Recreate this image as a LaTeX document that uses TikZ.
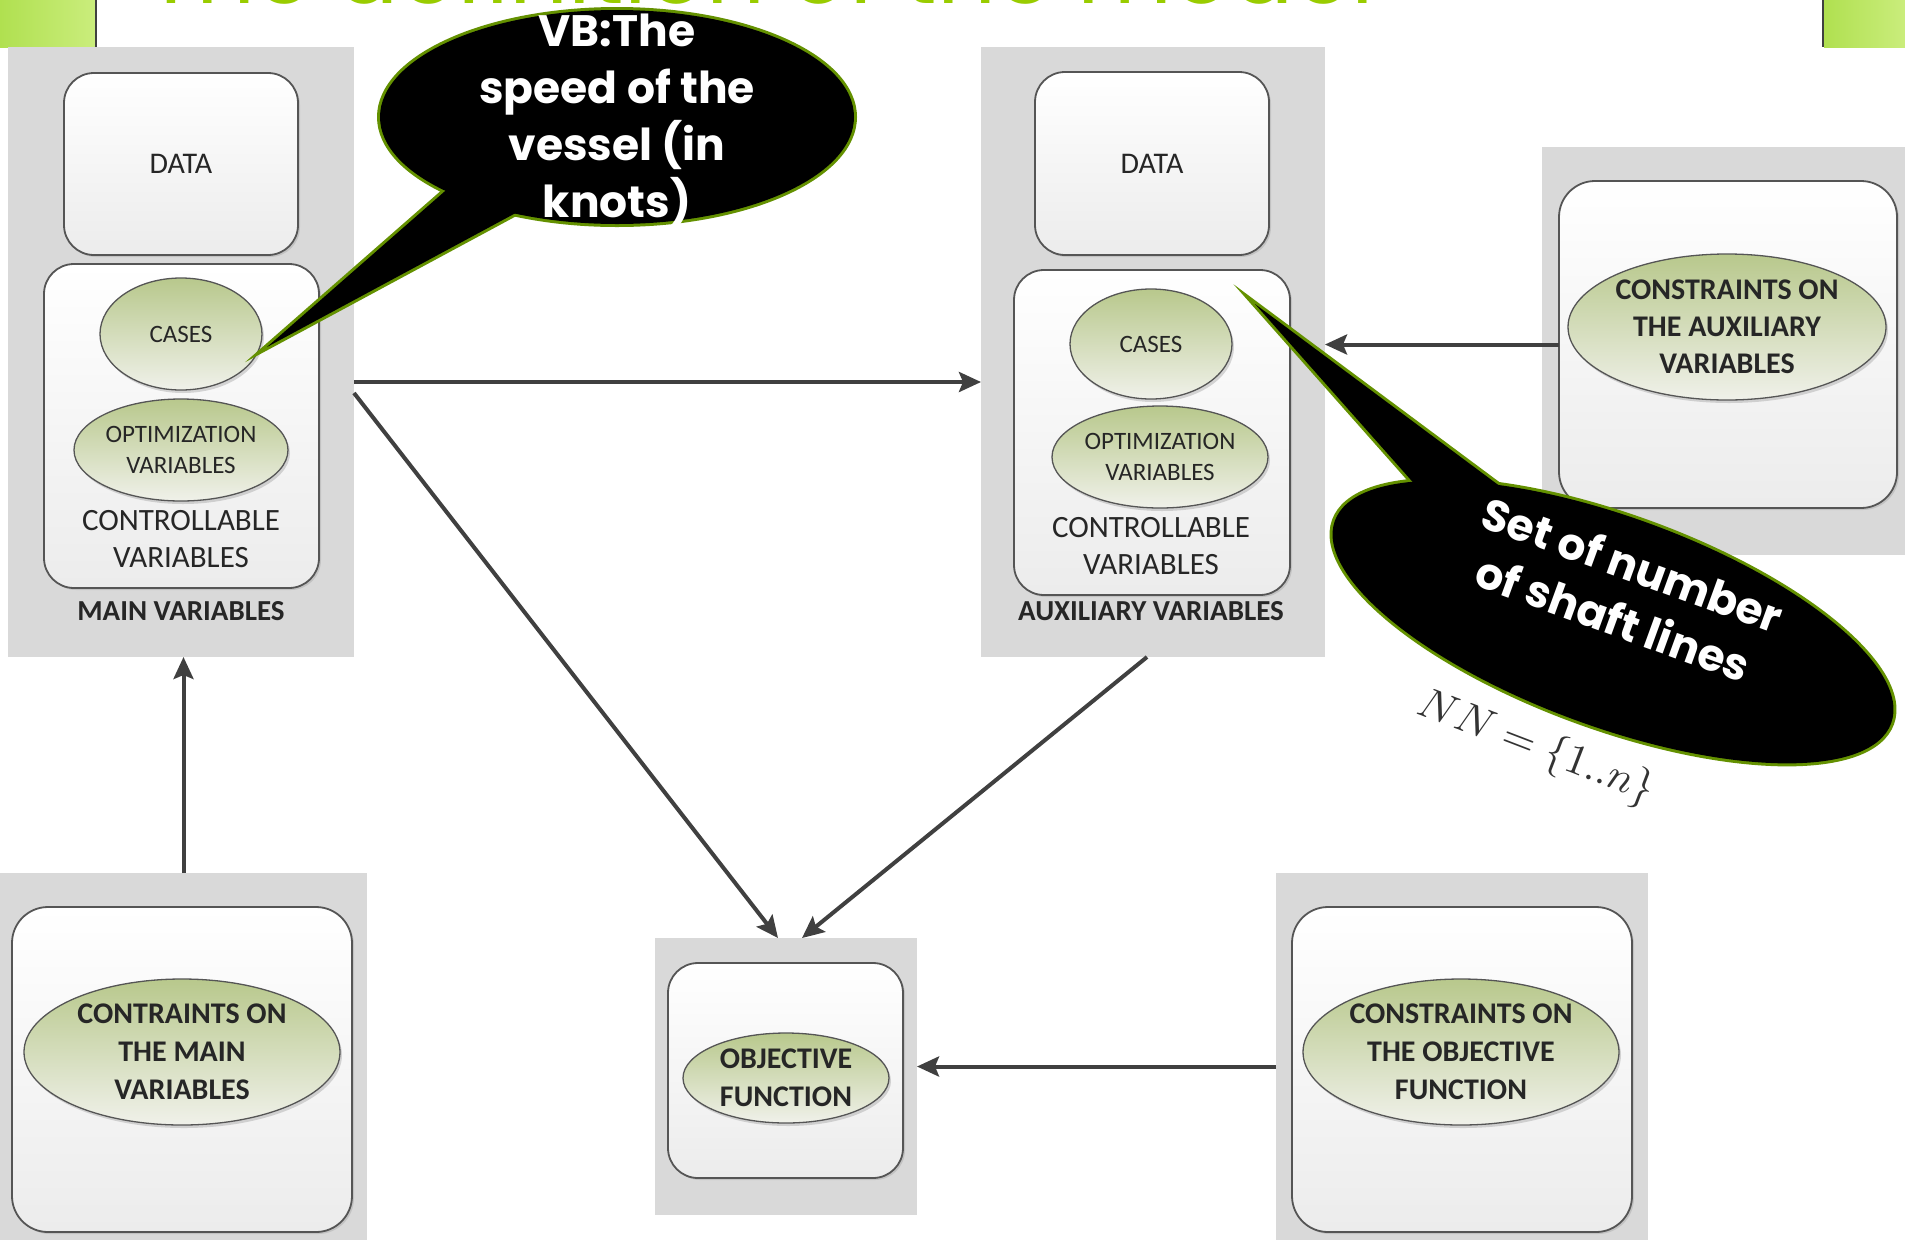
\documentclass[tikz,border=0pt]{standalone}
\usepackage{fontspec}
\usepackage{graphicx}
\setmainfont{Carlito}
\newfontfamily\callfont{Poppins}
\usetikzlibrary{arrows.meta,shapes.geometric,shadows}

\definecolor{panelgray}{RGB}{217,217,217}
\definecolor{cardedge}{RGB}{85,85,85}
\definecolor{ovaltop}{RGB}{184,200,140}
\definecolor{ovalbottom}{RGB}{240,241,234}
\definecolor{flowgray}{RGB}{64,64,64}
\definecolor{bubbleedge}{RGB}{100,145,0}
\definecolor{titlegreen}{RGB}{153,204,0}
\definecolor{barleft}{RGB}{176,224,80}
\definecolor{barright}{RGB}{202,237,124}
\definecolor{inktext}{RGB}{38,38,38}

\newcommand\setfs[2]{\fontsize{#1}{#2}\selectfont}

\tikzset{
  panel/.style={fill=panelgray, draw=none, inner sep=0pt, outer sep=0pt},
  card/.style={draw=cardedge, line width=1.8pt, rounded corners=30pt,
    top color=white, bottom color=gray!15, inner sep=0pt, outer sep=0pt,
    drop shadow={opacity=.25, shadow xshift=2pt, shadow yshift=-2pt}},
  oval/.style={ellipse, draw=cardedge, line width=1.3pt,
    top color=ovaltop, bottom color=ovalbottom, inner sep=0pt, outer sep=0pt,
    align=center, text=inktext,
    drop shadow={opacity=.3, shadow xshift=2pt, shadow yshift=-3pt}},
  lbl/.style={text=inktext, align=center, inner sep=0pt},
  flow/.style={draw=flowgray, line width=4pt,
    -{Stealth[length=22pt,width=20pt,inset=4pt]}},
  bubbletext/.style={text=white, align=center, inner sep=0pt,
    font=\callfont\bfseries\setfs{44}{57}},
}

\begin{document}
\begin{tikzpicture}[x=1pt,y=-1pt]
\useasboundingbox (0,0) rectangle (1905,1240);
\fill[white] (0,0) rectangle (1905,1240);

% slide heading and corner bars
\node[anchor=base west, inner sep=0pt, text=titlegreen] (title) at (146,3)
  {\resizebox{1227pt}{!}{\callfont The definition of the model}};
\shade[left color=barleft, right color=barright] (0,0) rectangle (95,47);
\shade[left color=barleft, right color=barright] (1824,0) rectangle (1905,47);
\draw[black!75, line width=1.5pt] (96,0) -- (96,47);
\draw[black!75, line width=1.5pt] (1823,0) -- (1823,47);

% grey panels
\node[panel, minimum width=346pt, minimum height=610pt] (pMain) at (181,352) {};
\node[panel, minimum width=344pt, minimum height=610pt] (pAux)  at (1153,352) {};
\node[panel, minimum width=363pt, minimum height=408pt] (pAuxC) at (1723.5,351) {};
\node[panel, minimum width=367pt, minimum height=367pt] (pBL)   at (183.5,1056.5) {};
\node[panel, minimum width=262pt, minimum height=277pt] (pObj)  at (786,1076.5) {};
\node[panel, minimum width=372pt, minimum height=367pt] (pBR)   at (1462,1056.5) {};

% rounded cards
\node[card, minimum width=234pt, minimum height=182pt] (cDataA) at (181,164) {};
\node[card, minimum width=275pt, minimum height=324pt] (cCtrlA) at (181.5,426) {};
\node[card, minimum width=234pt, minimum height=183pt] (cDataB) at (1152,163.5) {};
\node[card, minimum width=276pt, minimum height=325pt] (cCtrlB) at (1152,432.5) {};
\node[card, minimum width=338pt, minimum height=327pt, rounded corners=36pt] (cAuxC) at (1728,344.5) {};
\node[card, minimum width=340pt, minimum height=325pt, rounded corners=36pt] (cBL) at (182,1069.5) {};
\node[card, minimum width=235pt, minimum height=215pt] (cObj) at (785.5,1070.5) {};
\node[card, minimum width=340pt, minimum height=325pt, rounded corners=36pt] (cBR) at (1462,1069.5) {};

% main variables column
\node[lbl, font=\setfs{30}{36}] (dataA) at (181,164) {DATA};
\node[oval, minimum width=162pt, minimum height=112pt, font=\setfs{25}{31}] (casesA) at (181,334) {CASES};
\node[oval, minimum width=214pt, minimum height=102pt, font=\setfs{25}{31}] (optA) at (181,450) {OPTIMIZATION\\VARIABLES};
\node[lbl, font=\setfs{31}{37}] (ctrlA) at (181,539) {CONTROLLABLE\\VARIABLES};
\node[lbl, font=\bfseries\setfs{29}{34}] (mainT) at (181,611) {MAIN VARIABLES};

% auxiliary variables column
\node[lbl, font=\setfs{30}{36}] (dataB) at (1152,164) {DATA};
\node[oval, minimum width=162pt, minimum height=110pt, font=\setfs{25}{31}] (casesB) at (1151,344) {CASES};
\node[oval, minimum width=216pt, minimum height=102pt, font=\setfs{25}{31}] (optB) at (1160,457) {OPTIMIZATION\\VARIABLES};
\node[lbl, font=\setfs{31}{37}] (ctrlB) at (1151,546) {CONTROLLABLE\\VARIABLES};
\node[lbl, font=\bfseries\setfs{29}{34}] (auxT) at (1151,611) {AUXILIARY VARIABLES};

% constraint and objective ovals
\node[oval, minimum width=318pt, minimum height=146pt, font=\bfseries\setfs{30}{37}] (ovAuxC) at (1727,327) {CONSTRAINTS ON\\THE AUXILIARY\\VARIABLES};
\node[oval, minimum width=316pt, minimum height=146pt, font=\bfseries\setfs{30}{38}] (ovBL) at (182,1052) {CONTRAINTS ON\\THE MAIN\\VARIABLES};
\node[oval, minimum width=206pt, minimum height=90pt, font=\bfseries\setfs{30}{38}] (ovObj) at (786,1078) {OBJECTIVE\\FUNCTION};
\node[oval, minimum width=316pt, minimum height=146pt, font=\bfseries\setfs{30}{38}] (ovBR) at (1461,1052) {CONSTRAINTS ON\\THE OBJECTIVE\\FUNCTION};

% connectors
\draw[flow] ([yshift=-30pt]pMain.east) -- ([yshift=-30pt]pAux.west);
\draw[flow] ([yshift=-41pt]pMain.east) -- ([xshift=-8pt]pObj.north);
\draw[flow] ([xshift=-6pt]pAux.south) -- ([xshift=16pt]pObj.north);
\draw[flow] (pBL.north) -- (pBL.north |- pMain.south);
\draw[flow] (cAuxC.west) -- (pAux.east |- cAuxC.west);
\draw[flow] ([yshift=-10pt]pBR.west) -- ([yshift=10pt]pObj.east);

% speech bubble on the main cases
\draw[bubbleedge, line width=6pt, line join=miter]
  (617,117) ellipse [x radius=237pt, y radius=107pt];
\draw[bubbleedge, line width=6pt, line join=miter]
  (452,185) -- (267,347) -- (525,208) -- cycle;
\fill[black] (617,117) ellipse [x radius=237pt, y radius=107pt];
\fill[black] (452,185) -- (267,347) -- (525,208) -- cycle;
\node[bubbletext] (speedT) at (617,120) {VB:The\\speed of the\\vessel (in\\knots)};

% speech bubble on the auxiliary cases
\begin{scope}[shift={(1613,622)}, rotate=-20]
  \draw[bubbleedge, line width=6pt] (0,0) ellipse [x radius=296pt, y radius=105pt];
\end{scope}
\draw[bubbleedge, line width=6pt, line join=miter]
  (1418,488) -- (1255,304) -- (1505,490) -- cycle;
\begin{scope}[shift={(1613,622)}, rotate=-20]
  \fill[black] (0,0) ellipse [x radius=296pt, y radius=105pt];
\end{scope}
\fill[black] (1418,488) -- (1255,304) -- (1505,490) -- cycle;
\node[bubbletext, rotate=-20] (shaftT) at (1623,591) {Set of number\\of shaft lines};

% set definition below the bubble
\node[text=black!80, inner sep=0pt, rotate=-21] (setNN) at (1536,748)
  {\resizebox{250pt}{!}{$NN=\{1..n\}$}};
\end{tikzpicture}
\end{document}
